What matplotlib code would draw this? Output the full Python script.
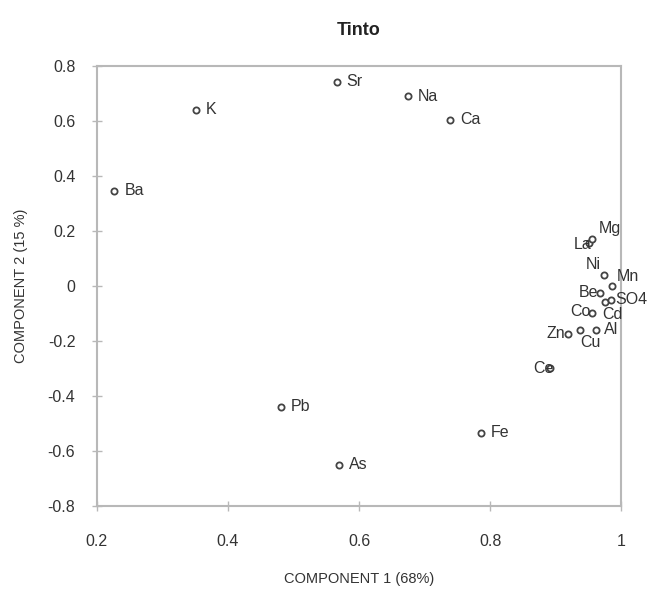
import matplotlib.pyplot as plt

plt.rcParams['font.family'] = ['Liberation Sans', 'DejaVu Sans']

# cargas de cada variable en las dos primeras componentes
nombres = ['Sr', 'Na', 'Ca', 'K', 'Ba', 'Pb', 'As', 'Fe', 'Ce', 'Zn', 'Cu', 'Al',
           'Co', 'Cd', 'Be', 'SO4', 'Ni', 'Mn', 'La', 'Mg']
comp1 = [0.566, 0.675, 0.739, 0.351, 0.227, 0.481, 0.569, 0.786, 0.892, 0.919, 0.937, 0.962,
         0.956, 0.975, 0.968, 0.985, 0.973, 0.986, 0.950, 0.956]
comp2 = [0.742, 0.690, 0.604, 0.640, 0.345, -0.440, -0.651, -0.535, -0.300, -0.175, -0.160, -0.160,
         -0.100, -0.060, -0.025, -0.050, 0.040, 0.000, 0.156, 0.170]

# desplazamiento de las etiquetas (pixeles) y alineacion, para el grupo apretado
desp = {'Ce': (3, 0, 'right'), 'Zn': (-3, 0, 'right'), 'Cu': (10, -13, 'center'),
        'Al': (8, 0, 'left'), 'Co': (-2, 2, 'right'), 'Cd': (-3, -12, 'left'),
        'Be': (-2, 0, 'right'), 'SO4': (4, 0, 'left'), 'Ni': (-3, 10, 'right'),
        'Mn': (5, 9, 'left'), 'La': (3, -2, 'right'), 'Mg': (6, 11, 'left')}

fig = plt.figure(figsize=(6.54, 5.93), dpi=100)
ax = fig.add_axes([0.148, 0.147, 0.802, 0.742])

ax.scatter(comp1, comp2, s=20, facecolors='white', edgecolors='#444444', linewidths=1.3, zorder=3)

for n, x, y in zip(nombres, comp1, comp2):
    dx, dy, ha = desp.get(n, (10, 0, 'left'))
    ax.annotate(n, (x, y), xytext=(dx, dy), textcoords='offset pixels',
                ha=ha, va='center', fontsize=11.5, color='#333333')

ax.set_xlim(0.2, 1.0)
ax.set_ylim(-0.8, 0.8)
ax.set_xticks([0.2, 0.4, 0.6, 0.8, 1.0])
ax.set_xticklabels(['0.2', '0.4', '0.6', '0.8', '1'])
ax.set_yticks([-0.8, -0.6, -0.4, -0.2, 0, 0.2, 0.4, 0.6, 0.8])
ax.set_yticklabels(['-0.8', '-0.6', '-0.4', '-0.2', '0', '0.2', '0.4', '0.6', '0.8'])

for s in ax.spines.values():
    s.set_color('#b8b8b8')
    s.set_linewidth(1.5)
ax.tick_params(direction='inout', length=7, width=1, color='#b8b8b8',
               labelsize=11.5, labelcolor='#333333')
ax.tick_params(axis='x', pad=17)
ax.tick_params(axis='y', pad=12)

ax.set_xlabel('COMPONENT 1 (68%)', fontsize=10.5, color='#333333', labelpad=16)
ax.set_ylabel('COMPONENT 2 (15 %)', fontsize=10.5, color='#333333', labelpad=14)
ax.set_title('Tinto', fontsize=13, fontweight='bold', color='#222222', pad=22)

fig.savefig('out.png', dpi=100)
